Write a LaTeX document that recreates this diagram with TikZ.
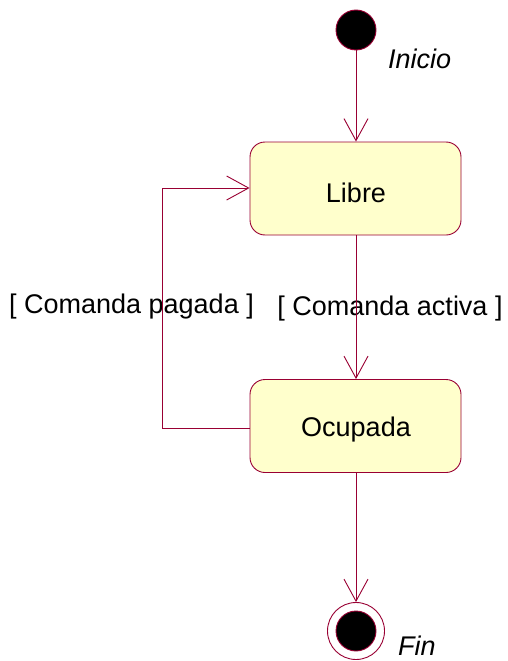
\documentclass[tikz,border=0pt]{standalone}
\usepackage{fontspec}
\setmainfont{Liberation Sans}
\usetikzlibrary{arrows.meta}
\definecolor{umlred}{HTML}{990033}
\definecolor{umlfill}{HTML}{FFFFCC}
\tikzset{
  statebox/.style={draw=umlred, fill=umlfill, rounded corners=15pt, minimum width=211pt, minimum height=93pt, line width=0.9pt, font=\fontsize{27}{32}\selectfont},
  conn/.style={draw=umlred, line width=0.9pt, -{Straight Barb[length=22pt, width=24pt, line width=0.9pt]}},
  lbl/.style={font=\fontsize{27}{32}\selectfont, inner sep=0pt},
  ilbl/.style={font=\fontsize{27}{32}\selectfont\itshape, inner sep=0pt},
}
\begin{document}
\begin{tikzpicture}[x=1pt, y=-1pt]
\useasboundingbox (0,0) rectangle (508,661);
\node[circle, fill=black, draw=umlred, line width=0.9pt, minimum size=40pt, inner sep=0pt] (start) at (356,30) {};
\node[ilbl, anchor=west] (inicio) at (388,59) {Inicio};
\node[statebox] (libre) at (355.5,188.5) {};
\node[lbl] (libret) at (356,193) {Libre};
\node[statebox] (ocupada) at (355.5,426) {};
\node[lbl] (ocupadat) at (356,430) {Ocupada};
\node[circle, draw=umlred, fill=white, line width=0.9pt, minimum size=57pt, inner sep=0pt] (endo) at (356,631) {};
\node[circle, fill=black, draw=umlred, line width=0.9pt, minimum size=40pt, inner sep=0pt] (endi) at (356,631) {};
\node[ilbl, anchor=west] (fin) at (398,646) {Fin};
\node[lbl] (pagada) at (131.5,307) {[ Comanda pagada ]};
\node[lbl] (activa) at (390,309) {[ Comanda activa ]};
\coordinate (c1) at (162,428);
\coordinate (c2) at (162,188);
\draw[conn] (start) -- (libre.north -| start);
\draw[conn] (libre.south -| start) -- (ocupada.north -| start);
\draw[conn] (ocupada.south -| start) -- (endo.north);
\draw[conn] (ocupada.west |- c1) -- (c1) -- (c2) -- (libre.west |- c2);
\end{tikzpicture}
\end{document}
